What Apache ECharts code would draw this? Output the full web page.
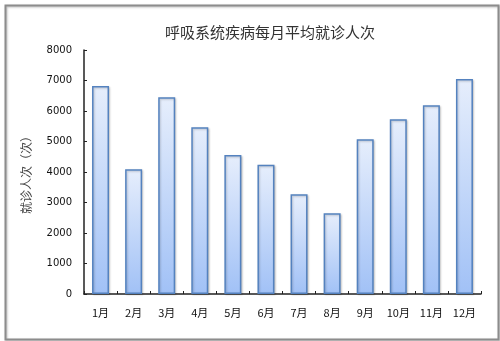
<!DOCTYPE html>
<html><head><meta charset="utf-8">
<script src="https://cdn.jsdelivr.net/npm/echarts@6/dist/echarts.min.js"></script>
<style>html,body{margin:0;padding:0;background:#fff}#c{width:500px;height:341px}</style>
</head><body><div id="c"></div>
<script>
const titleText = '呼吸系统疾病每月平均就诊人次';
const yAxisName = '就诊人次（次）';
const categories = ['1月','2月','3月','4月','5月','6月','7月','8月','9月','10月','11月','12月'];
const visits = [6820, 4090, 6450, 5470, 4560, 4240, 3270, 2650, 5070, 5730, 6190, 7050];
const yMin = 0, yMax = 8000, yStep = 1000;

const chart = echarts.init(document.getElementById('c'), null, {renderer:'canvas'});
chart.setOption({
  animation: false,
  backgroundColor: '#fff',
  graphic: [{
    type: 'rect', left: 3, top: 3,
    shape: {width: 493, height: 334},
    style: {fill: 'none', stroke: '#8c8c8c', lineWidth: 2, shadowColor: 'rgba(0,0,0,0.25)', shadowBlur: 2, shadowOffsetX: 1, shadowOffsetY: 1},
    silent: true, z: -1
  }],
  title: {
    text: titleText, left: 265, top: 20, textAlign: 'center',
    textStyle: {fontFamily: 'Noto Sans CJK SC', fontSize: 15, fontWeight: 'normal', color: '#333'}
  },
  grid: {left: 84, right: 19, top: 50, bottom: 47},
  xAxis: {
    type: 'category', data: categories,
    axisLine: {lineStyle: {color: '#222', width: 1.5}},
    axisTick: {show: true, inside: true, length: 3, lineStyle: {color: '#222'}},
    axisLabel: {color: '#111', fontSize: 11, fontFamily: 'Noto Sans CJK SC', margin: 13}
  },
  yAxis: {
    type: 'value', min: yMin, max: yMax, interval: yStep,
    name: yAxisName, nameLocation: 'middle', nameGap: 52, nameRotate: 90,
    nameTextStyle: {color: '#444', fontSize: 12, fontFamily: 'Noto Sans CJK SC'},
    axisLine: {show: true, lineStyle: {color: '#222', width: 1.5}},
    axisTick: {show: true, inside: true, length: 3, lineStyle: {color: '#222'}},
    splitLine: {show: false},
    axisLabel: {color: '#111', fontSize: 10, fontFamily: 'DejaVu Sans', margin: 12, formatter: v => String(v)}
  },
  series: [{
    type: 'bar', data: visits, barWidth: 17,
    itemStyle: {
      color: new echarts.graphic.LinearGradient(0,0,0,1,[{offset:0,color:'#e6eefc'},{offset:1,color:'#a1c1f6'}]),
      borderColor: '#5482bf', borderWidth: 1.5,
      shadowColor: 'rgba(0,0,0,0.2)', shadowBlur: 2, shadowOffsetX: 1, shadowOffsetY: 1
    }
  }]
});
</script></body></html>
